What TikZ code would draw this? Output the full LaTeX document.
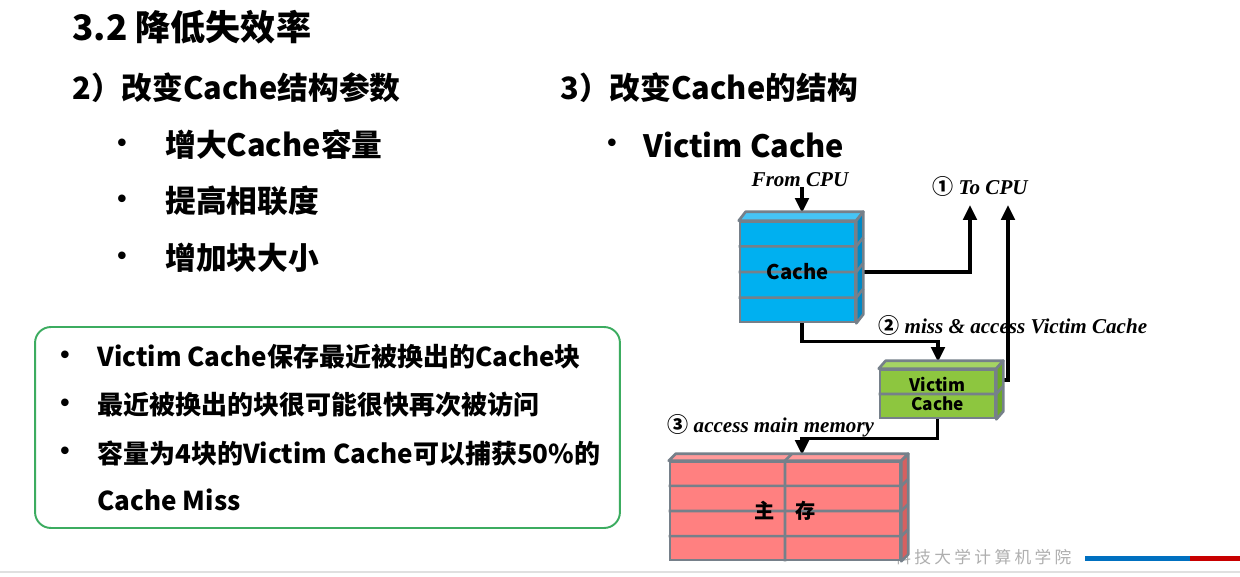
\documentclass[tikz,border=0pt]{standalone}
\usepackage{fontspec}
\usepackage{tikz}
\usetikzlibrary{positioning,arrows.meta,calc,backgrounds}
\setmainfont{Noto Sans CJK SC}
\newfontfamily\serifit{Liberation Serif}
\newfontfamily\numfont{Noto Sans CJK SC}
\newfontfamily\dotfont{Liberation Sans}
\newfontfamily\footfont[LetterSpace=20]{Noto Sans CJK SC}
\definecolor{blkedge}{RGB}{118,128,138}
\definecolor{cacheblue}{RGB}{0,176,240}
\definecolor{cachetopc}{RGB}{70,196,245}
\definecolor{cachesidec}{RGB}{0,136,196}
\definecolor{vcgreen}{RGB}{141,198,63}
\definecolor{vctopc}{RGB}{165,212,100}
\definecolor{vcsidec}{RGB}{108,168,40}
\definecolor{memred}{RGB}{255,128,128}
\definecolor{memtopc}{RGB}{255,154,154}
\definecolor{memsidec}{RGB}{214,96,96}
\definecolor{noterule}{RGB}{60,172,96}
\definecolor{footgrey}{RGB}{175,175,175}
\definecolor{footblue}{RGB}{0,112,192}
\definecolor{footred}{RGB}{200,0,0}
\tikzset{
  titletext/.style={anchor=west,inner sep=0pt,font=\bfseries\fontsize{20}{24}\selectfont},
  heading/.style={anchor=west,inner sep=0pt,font=\bfseries\fontsize{17.5}{20}\selectfont},
  itemtext/.style={anchor=west,inner sep=0pt,font=\bfseries\fontsize{17.5}{20}\selectfont},
  notetext/.style={anchor=west,inner sep=0pt,font=\bfseries\fontsize{14.8}{18}\selectfont},
  dot/.style={inner sep=0pt,font=\dotfont\bfseries\fontsize{15}{16}\selectfont},
  notebox/.style={rectangle,rounded corners=9pt,draw=noterule,line width=1.1pt},
  blk/.style={rectangle,draw=blkedge,line width=1.5pt,inner sep=0pt},
  sep/.style={draw=blkedge,line width=1.5pt},
  blklbl/.style={inner sep=0pt,align=center,font=\bfseries\fontsize{11.5}{13}\selectfont},
  vclbl/.style={inner sep=0pt,align=center,font=\bfseries\fontsize{9.8}{11.3}\selectfont},
  flowlbl/.style={inner sep=0pt,font=\serifit\bfseries\itshape\fontsize{12}{14}\selectfont},
  edge/.style={-{Triangle[length=3mm,width=2.7mm]},line width=2pt},
  foottext/.style={inner sep=0pt,text=footgrey,font=\footfont\fontsize{9.5}{12}\selectfont}
}
% top and side faces of a 3D block
\newcommand{\blockfaces}[5]{%
  \filldraw[fill=#2,draw=blkedge,line width=1.5pt,line join=round]
    (#1.north west) -- ++(#4,#5) -- ($(#1.north east)+(#4,#5)$) -- (#1.north east) -- cycle;
  \filldraw[fill=#3,draw=blkedge,line width=1.5pt,line join=round]
    (#1.north east) -- ++(#4,#5) -- ($(#1.south east)+(#4,#5)$) -- (#1.south east) -- cycle;
}
\begin{document}
\begin{tikzpicture}[x=0.02cm,y=-0.02cm]
  \begin{scope}[on background layer]
    \fill[white] (0,0) rectangle (1240,577);
  \end{scope}
  \path[use as bounding box] (0,0) rectangle (1240,577);

  % left text
  \node[titletext] (title) at (72,27) {3.2 降低失效率};
  \node[heading] (leftpart) at (72,88) {2）改变Cache结构参数};
  \node[heading] (rightpart) at (560,88) {3）改变Cache的结构};
  \node[itemtext] (bigger) at (165,145) {增大Cache容量};
  \node[itemtext] (assoc) at (165,201) {提高相联度};
  \node[itemtext] (blocksz) at (165,258) {增加块大小};
  \node[itemtext] (victimitem) at (643,145) {Victim Cache};
  \foreach \y in {145,201,258}
    \node[dot] (dot\y) at (122,\y) {\textbullet};
  \node[dot] (dotvc) at (612,145) {\textbullet};

  % note box
  \node[notebox,minimum width=11.7cm,minimum height=4.02cm] (note) at (327.5,427.5) {};
  \node[notetext] (note1) at (97,357) {Victim Cache保存最近被换出的Cache块};
  \node[notetext] (note2) at (97,405) {最近被换出的块很可能很快再次被访问};
  \node[notetext] (note3) at (97,453) {容量为4块的Victim Cache可以捕获50\%的};
  \node[notetext] (note4) at (97,500) {Cache Miss};
  \foreach \y in {357,405,453}
    \node[dot] (ndot\y) at (65,\y) {\textbullet};

  % footer
  \node[foottext,anchor=west] (foot) at (894,557) {科技大学计算机学院};
  \fill[footblue] (1085,556) rectangle (1190,561);
  \fill[footred] (1190,556) rectangle (1240,561);
  \draw[black!12,line width=0.6pt] (0,572) -- (1240,572);

  % blocks
  \node[blk,fill=cacheblue,minimum width=2.3cm,minimum height=2cm] (cache) at (797.5,272) {};
  \blockfaces{cache}{cachetopc}{cachesidec}{7}{-9}
  \foreach \f in {0.25,0.5,0.75}
    \draw[sep] ($(cache.north west)!\f!(cache.south west)$) -- ($(cache.north east)!\f!(cache.south east)$) -- ++(7,-9);
  \node[blklbl] (cachelbl) at (cache.center) {Cache};

  \node[blk,fill=vcgreen,minimum width=2.3cm,minimum height=0.96cm] (victim) at (937.5,394) {};
  \blockfaces{victim}{vctopc}{vcsidec}{7}{-8}
  \draw[sep] (victim.west) -- (victim.east) -- ++(7,-8);
  \node[vclbl] (victimlbl) at (victim.center) {Victim\\Cache};

  \node[blk,fill=memred,minimum width=4.6cm,minimum height=1.96cm] (mem) at (785,511) {};
  \blockfaces{mem}{memtopc}{memsidec}{7}{-7}
  \foreach \f in {0.25,0.5,0.75}
    \draw[sep] ($(mem.north west)!\f!(mem.south west)$) -- ($(mem.north east)!\f!(mem.south east)$) -- ++(7,-7);
  \draw[sep] (mem.south) -- (mem.north) -- ++(7,-7);
  \node[blklbl] (memlbl) at (mem.center) {主\hspace{1em}存};

  % labels
  \node[flowlbl] (fromcpu) at (800,180) {From CPU};
  \node[flowlbl] (tocpu) at (980,186) {{\numfont ①} To CPU};
  \node[flowlbl,anchor=west] (missvc) at (878,325) {{\numfont ②} miss \& access Victim Cache};
  \node[flowlbl,anchor=west] (accmem) at (667,426) {{\numfont ③} access main memory};

  \coordinate (cachein) at (802,213);
  \coordinate (vcin) at (938,362);
  \coordinate (memin) at (802,455);
  \coordinate (cpuone) at (970,205);
  \coordinate (cputwo) at (1008,205);

  \begin{scope}[on background layer]
    \draw[edge] (fromcpu.south -| cachein) -- (cachein);
    \draw[edge] (cache.east) -| (cpuone);
    \draw[edge] ([xshift=0.09cm]cache.south) -- ++(0,18) -| (vcin);
    \draw[edge] ([yshift=0.28cm]victim.east) -| (cputwo);
    \draw[edge] (victim.south) -- ++(0,19) -| (memin);
  \end{scope}
\end{tikzpicture}
\end{document}
